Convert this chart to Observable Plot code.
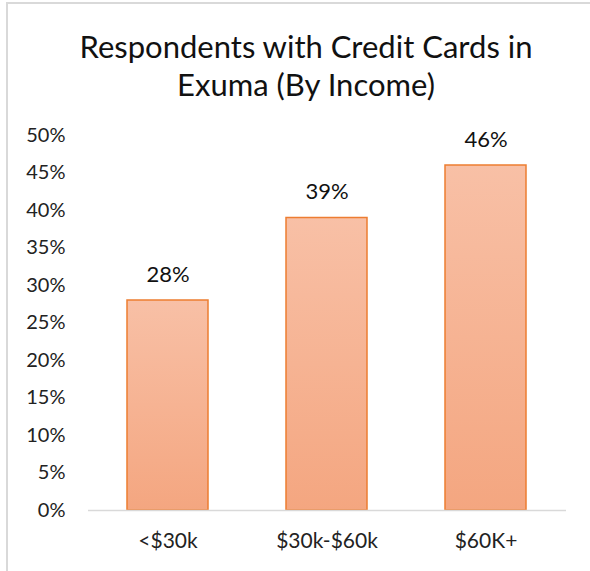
<!DOCTYPE html>
<html>
<head>
<meta charset="utf-8">
<script src="https://cdn.jsdelivr.net/npm/d3@7"></script>
<script src="https://cdn.jsdelivr.net/npm/@observablehq/plot@0.6"></script>
<style>
  html, body { margin: 0; padding: 0; background: #fff; }
  #wrap { position: relative; width: 590px; height: 571px; overflow: hidden; font-family: Lato, "Noto Sans", sans-serif; }
  #frame { position: absolute; left: 6px; top: 2px; width: 600px; height: 600px; border-left: 2px solid #d9d9d9; border-top: 2px solid #d9d9d9; box-sizing: border-box; }
  #title { position: absolute; left: 0; top: 0; width: 612px; text-align: center; font-size: 31px; line-height: 38px; color: #111; padding-top: 27px; }
  #chart { position: absolute; left: 0; top: 120px; }
</style>
</head>
<body>
<div id="wrap">
  <div id="frame"></div>
  <div id="title">Respondents with Credit Cards in<br>Exuma (By Income)</div>
  <div id="chart"></div>
</div>
<script>
const categories = ["<$30k", "$30k-$60k", "$60K+"];
const values = [28, 39, 46];
const valueLabels = ["28%", "39%", "46%"];
const yTicks = [0, 5, 10, 15, 20, 25, 30, 35, 40, 45, 50];

const data = categories.map((c, i) => ({ cat: c, v: values[i], label: valueLabels[i] }));

const plot = Plot.plot({
  width: 590,
  height: 451,
  marginLeft: 88,
  marginRight: 24,
  marginTop: 15,
  marginBottom: 61,
  style: { fontFamily: "Lato, 'Noto Sans', sans-serif", fontSize: "20px", color: "#222", background: "transparent" },
  x: { domain: categories, paddingInner: 0.49, paddingOuter: 0.245, label: null, tickSize: 0, tickPadding: 23 },
  y: { domain: [0, 50], ticks: yTicks, tickFormat: d => d + "%", label: null, tickSize: 0, tickPadding: 23 },
  marks: [
    Plot.barY(data, { x: "cat", y: "v", fill: "url(#barGrad)", stroke: "#ed7d31", strokeWidth: 1.5 }),
    Plot.ruleY([0], { stroke: "#d9d9d9", strokeWidth: 1.5 }),
    Plot.text(data, { x: "cat", y: "v", text: "label", dy: -26, fontSize: 22, fill: "#111" })
  ]
});

const svg = d3.select(plot);
svg.selectAll("[aria-label='x-axis tick label'] text, [aria-label='x-axis tick label']").style("font-size", "21px");
const defs = svg.insert("defs", ":first-child");
const g = defs.append("linearGradient").attr("id", "barGrad").attr("x1", 0).attr("y1", 0).attr("x2", 0).attr("y2", 1);
g.append("stop").attr("offset", "0%").attr("stop-color", "#f8c0a6");
g.append("stop").attr("offset", "100%").attr("stop-color", "#f4a680");

document.getElementById("chart").appendChild(plot);
</script>
</body>
</html>
